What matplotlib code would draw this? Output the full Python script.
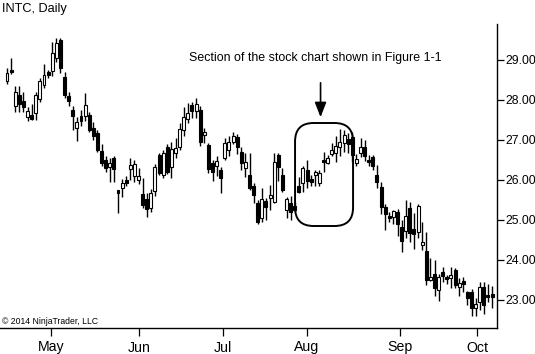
import matplotlib
matplotlib.use("Agg")
import matplotlib.pyplot as plt
from matplotlib import font_manager
from matplotlib.patches import FancyBboxPatch

# INTC daily candles (trading-day order)
opens = [28.48, 28.72, 27.85, 28.12, 27.98, 27.57, 27.62, 27.67, 28.02, 28.37,
         28.70, 28.73, 29.04, 29.50, 28.58, 28.10, 27.75, 27.30, 27.60, 27.60,
         27.62, 27.30, 27.17, 26.73, 26.50, 26.32, 26.55, 25.72, 25.80, 26.00,
         26.27, 26.10, 26.00, 25.65, 25.52, 25.30, 25.72, 26.62, 26.12, 26.82,
         26.32, 26.67, 26.82, 27.25, 27.52, 27.87, 27.72, 27.75, 27.12, 26.87,
         26.42, 26.35, 26.25, 26.55, 26.75, 26.95, 27.07, 26.70, 26.30, 26.12,
         25.85, 25.42, 25.05, 25.47, 25.55, 25.45, 26.62, 26.12, 25.25, 25.42,
         25.35, 25.85, 25.92, 26.25, 26.02, 26.12, 25.92, 26.50, 26.42, 26.65,
         26.67, 26.82, 26.92, 27.02, 27.07, 26.42, 26.67, 26.82, 26.50, 26.57,
         26.12, 25.82, 25.32, 25.07, 25.07, 25.20, 24.82, 24.72, 25.30, 24.77,
         24.70, 24.37, 24.22, 23.50, 23.65, 23.25, 23.70, 23.57, 23.55, 23.75,
         23.32, 23.47, 23.20, 23.20, 22.80, 22.95, 23.32, 23.12, 23.15]
closes = [28.68, 28.70, 28.20, 27.90, 27.83, 27.72, 27.52, 28.12, 28.48, 28.62,
          28.62, 29.18, 29.43, 28.80, 28.12, 27.98, 27.60, 27.45, 27.47, 27.87,
          27.25, 27.10, 26.75, 26.43, 26.30, 26.42, 26.27, 25.68, 25.92, 25.92,
          26.37, 26.40, 26.10, 25.38, 25.28, 25.68, 26.32, 26.17, 26.67, 26.20,
          26.77, 26.80, 27.27, 27.57, 27.67, 27.72, 27.90, 26.95, 27.20, 26.27,
          26.20, 26.47, 26.05, 26.92, 26.95, 27.10, 26.82, 26.42, 26.45, 25.80,
          25.62, 24.95, 25.52, 25.32, 25.62, 26.45, 26.32, 25.75, 25.52, 25.20,
          25.25, 25.70, 26.30, 25.97, 25.95, 26.20, 26.17, 26.45, 26.55, 26.75,
          26.85, 26.95, 27.12, 26.90, 26.62, 26.52, 26.82, 26.60, 26.45, 26.35,
          25.95, 25.32, 25.15, 25.05, 25.22, 24.90, 24.47, 25.10, 24.67, 24.65,
          25.35, 24.45, 23.50, 23.57, 23.30, 23.57, 23.60, 23.52, 23.62, 23.37,
          23.42, 23.40, 23.05, 22.80, 22.90, 23.32, 22.87, 23.07, 23.07]
highs = [28.80, 29.05, 28.35, 28.35, 28.20, 27.82, 27.90, 28.20, 28.55, 28.90,
         28.75, 29.45, 29.55, 29.55, 28.70, 28.20, 27.85, 27.57, 27.75, 28.17,
         27.70, 27.45, 27.25, 26.90, 26.60, 26.55, 26.60, 25.75, 26.02, 26.10,
         26.55, 26.50, 26.30, 26.05, 25.68, 25.77, 26.40, 26.67, 26.75, 26.90,
         26.95, 27.05, 27.42, 27.82, 27.92, 27.95, 28.05, 27.85, 27.30, 26.92,
         26.50, 26.60, 26.32, 27.05, 27.10, 27.20, 27.15, 26.82, 26.67, 26.67,
         25.92, 25.50, 25.80, 25.55, 25.87, 26.67, 26.67, 26.30, 25.57, 25.60,
         25.45, 26.07, 26.35, 26.50, 26.12, 26.25, 26.25, 26.70, 26.62, 26.92,
         27.10, 27.27, 27.25, 27.17, 27.20, 26.65, 27.05, 27.00, 26.62, 26.62,
         26.37, 25.95, 25.40, 25.20, 25.25, 25.27, 25.00, 25.50, 25.45, 25.17,
         25.40, 24.95, 24.70, 24.05, 24.00, 23.65, 23.82, 23.62, 23.82, 23.80,
         23.55, 23.57, 23.22, 23.27, 23.05, 23.45, 23.45, 23.40, 23.35]
lows = [28.40, 28.65, 27.70, 27.70, 27.70, 27.47, 27.50, 27.50, 27.95, 28.30,
        28.55, 28.60, 28.95, 28.68, 28.05, 27.85, 27.25, 26.97, 27.35, 27.47,
        27.20, 27.00, 26.70, 26.35, 26.20, 25.95, 25.95, 25.17, 25.57, 25.85,
        26.00, 25.95, 25.90, 25.30, 25.08, 25.20, 25.60, 26.12, 26.05, 26.15,
        26.05, 26.55, 26.75, 27.10, 27.42, 27.55, 27.55, 26.85, 26.92, 26.17,
        25.98, 26.10, 25.67, 26.50, 26.60, 26.90, 26.65, 26.25, 26.07, 25.75,
        25.42, 24.90, 24.95, 25.00, 25.25, 25.42, 25.98, 25.70, 25.05, 25.00,
        25.20, 25.67, 25.70, 25.80, 25.85, 25.85, 25.85, 26.20, 26.40, 26.60,
        26.45, 26.60, 26.70, 26.67, 26.45, 26.35, 26.57, 26.47, 26.35, 26.25,
        25.80, 25.15, 24.75, 24.95, 24.90, 24.60, 24.20, 24.55, 24.45, 24.27,
        24.55, 24.25, 23.37, 23.47, 23.10, 22.97, 23.45, 23.40, 23.30, 23.30,
        23.10, 23.20, 22.87, 22.60, 22.60, 22.75, 22.65, 22.95, 22.80]

month_labels = ["May", "Jun", "Jul", "Aug", "Sep", "Oct"]
month_start_idx = [10.7, 32.1, 52.6, 73.0, 95.6, 114.4]
price_ticks = [23, 24, 25, 26, 27, 28, 29]

names = {f.name for f in font_manager.fontManager.ttflist}
if "Liberation Sans Narrow" in names:
    FONT = dict(family="Liberation Sans Narrow")
    k = 1.15
else:
    FONT = dict(family="Liberation Sans")
    k = 1.0

W, H = 535, 354
fig = plt.figure(figsize=(W / 100, H / 100), dpi=100)
ax = fig.add_axes([0, 1 - 328 / H, 497 / W, (328 - 24) / H])

x = list(range(len(opens)))
# wicks
ax.vlines(x, lows, highs, color="black", lw=1.0, zorder=1)
# bodies
bottoms = [min(o, c) for o, c in zip(opens, closes)]
heights = [max(abs(c - o), 0.06) for o, c in zip(opens, closes)]
faces = ["white" if c >= o else "black" for o, c in zip(opens, closes)]
ax.bar(x, heights, bottom=bottoms, width=0.72, color=faces,
       edgecolor="black", linewidth=0.8, zorder=2)

ax.set_xlim(-1.7, 119.2)
ax.set_ylim(22.3, 29.9)

for s in ["top", "left"]:
    ax.spines[s].set_visible(False)
for s in ["right", "bottom"]:
    ax.spines[s].set_linewidth(1.0)

ax.yaxis.tick_right()
ax.set_yticks(price_ticks)
ax.set_yticklabels([f"{p:.2f}" for p in price_ticks], fontsize=8.7 * k, **FONT)
ax.set_xticks(month_start_idx)
ax.set_xticklabels(month_labels, fontsize=10.2 * k, **FONT)
ax.tick_params(axis="y", direction="out", length=5, width=0.9, pad=1)
ax.tick_params(axis="x", direction="out", length=6, width=0.9, pad=3)

# highlighted section
x0 = (295 - 7) / 4.11
x1 = (353 - 7) / 4.11
y_top = 29 - (123 - 60) / 40
y_bot = 29 - (226 - 60) / 40
box = FancyBboxPatch((x0, y_bot), x1 - x0, y_top - y_bot,
                     boxstyle="round,pad=0,rounding_size=4.5",
                     mutation_aspect=4.11 / 40,
                     facecolor="none", edgecolor="black", lw=1.4, zorder=3)
ax.add_patch(box)

arrow_x = (320.5 - 7) / 4.11
ax.annotate("", xy=(arrow_x, 29 - (120 - 60) / 40),
            xytext=(arrow_x, 29 - (80 - 60) / 40),
            arrowprops=dict(arrowstyle="-|>,head_length=0.9,head_width=0.35",
                            color="black", lw=1.2))

fig.text(315 / W, 1 - 58 / H, "Section of the stock chart shown in Figure 1-1",
         ha="center", va="center", fontsize=8.9 * k, **FONT)
fig.text(2 / W, 1 - 3 / H, "INTC, Daily", ha="left", va="top",
         fontsize=9.2 * k, **FONT)
fig.text(2 / W, 1 - 321.5 / H, "\u00a9 2014 NinjaTrader, LLC", ha="left",
         va="center", fontsize=6.2 * k, **FONT)

fig.savefig("out.png", dpi=100)
